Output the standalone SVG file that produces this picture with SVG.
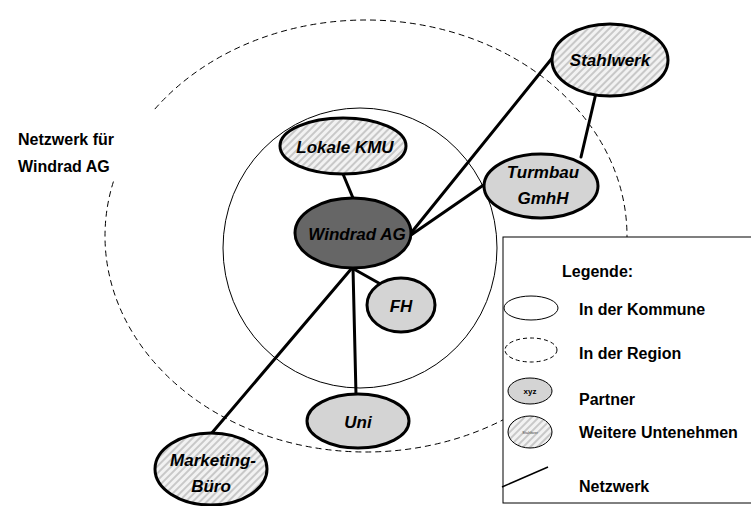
<svg xmlns="http://www.w3.org/2000/svg" width="751" height="506" viewBox="0 0 751 506">
  <defs>
    <pattern id="hatch" width="5" height="5" patternUnits="userSpaceOnUse" patternTransform="rotate(45)">
      <rect width="5" height="5" fill="#f2f2f2"/>
      <rect width="2" height="5" fill="#c8c8c8"/>
    </pattern>
    <style>
      .node { stroke: #000; stroke-width: 3; }
      .partner { fill: #d4d4d4; }
      .other { fill: url(#hatch); }
      .main { fill: #666666; }
      .lbl { font-family: "Liberation Sans", Arial, sans-serif; font-weight: bold; font-style: italic; font-size: 17px; fill: #000; text-anchor: middle; }
      .leg { font-family: "Liberation Sans", Arial, sans-serif; font-weight: bold; font-size: 16px; fill: #000; }
      .conn line { stroke: #000; stroke-width: 3; stroke-linecap: round; }
    </style>
  </defs>
  <rect width="751" height="506" fill="#fff"/>

  <g id="region">
    <ellipse cx="366" cy="236" rx="261" ry="216" fill="none" stroke="#000" stroke-width="1" stroke-dasharray="6,4"/>
  </g>
  <g id="kommune">
    <ellipse cx="360" cy="248" rx="137" ry="140" fill="none" stroke="#000" stroke-width="1"/>
  </g>

  <g id="title">
    <rect x="5" y="111" width="148" height="70" fill="#fff"/>
    <text class="leg" x="18" y="145" font-size="19">Netzwerk für</text>
    <text class="leg" x="18" y="172" font-size="19">Windrad AG</text>
  </g>

  <g id="connectors" class="conn">
    <line x1="343" y1="174" x2="353" y2="198"/>
    <line x1="411" y1="233" x2="553" y2="57"/>
    <line x1="411" y1="235" x2="485" y2="184"/>
    <line x1="581" y1="157" x2="596" y2="93"/>
    <line x1="353" y1="268" x2="356" y2="395"/>
    <line x1="352" y1="268" x2="384" y2="286"/>
    <line x1="352" y1="268" x2="211" y2="434"/>
  </g>

  <g id="stahlwerk">
    <ellipse class="node other" cx="610" cy="60" rx="58" ry="36"/>
    <text class="lbl" x="610" y="66">Stahlwerk</text>
  </g>
  <g id="lokale-kmu">
    <ellipse class="node other" cx="343" cy="146" rx="63" ry="28"/>
    <text class="lbl" x="345" y="153">Lokale KMU</text>
  </g>
  <g id="windrad-ag">
    <ellipse class="node main" cx="353" cy="233" rx="58" ry="35"/>
    <text class="lbl" x="357" y="240">Windrad AG</text>
  </g>
  <g id="turmbau">
    <ellipse class="node partner" cx="541" cy="186" rx="57" ry="32"/>
    <text class="lbl" x="543" y="178">Turmbau</text>
    <text class="lbl" x="543" y="204">GmhH</text>
  </g>
  <g id="fh">
    <ellipse class="node partner" cx="401" cy="305" rx="34" ry="27"/>
    <text class="lbl" x="401" y="312">FH</text>
  </g>
  <g id="uni">
    <ellipse class="node partner" cx="358" cy="421" rx="51" ry="27"/>
    <text class="lbl" x="358" y="428">Uni</text>
  </g>
  <g id="marketing-buero">
    <ellipse class="node other" cx="211" cy="469" rx="56" ry="36"/>
    <text class="lbl" x="213" y="466">Marketing-</text>
    <text class="lbl" x="211" y="492">Büro</text>
  </g>

  <g id="legend">
    <rect x="503" y="237" width="260" height="266" fill="#fff" stroke="#000" stroke-width="1"/>
    <text class="leg" x="562" y="277">Legende:</text>
    <ellipse cx="531" cy="308" rx="27" ry="12" fill="#fff" stroke="#000" stroke-width="1"/>
    <text class="leg" x="579" y="315">In der Kommune</text>
    <ellipse cx="531" cy="350" rx="26" ry="12" fill="#fff" stroke="#000" stroke-width="1" stroke-dasharray="4,3"/>
    <text class="leg" x="579" y="359">In der Region</text>
    <ellipse cx="530" cy="391" rx="22" ry="13" fill="#d4d4d4" stroke="#000" stroke-width="1"/>
    <text x="530" y="394" font-family="Liberation Sans, Arial, sans-serif" font-weight="bold" font-size="8" text-anchor="middle">xyz</text>
    <text class="leg" x="579" y="405">Partner</text>
    <ellipse cx="530" cy="432" rx="22" ry="16" fill="url(#hatch)" stroke="#000" stroke-width="1"/>
    <text x="530" y="434" font-family="Liberation Sans, Arial, sans-serif" font-size="4" fill="#444" text-anchor="middle">Stahlwer</text>
    <text class="leg" x="579" y="438">Weitere Untenehmen</text>
    <line x1="502" y1="487" x2="548" y2="467" stroke="#000" stroke-width="1.5"/>
    <text class="leg" x="579" y="492">Netzwerk</text>
  </g>
</svg>
